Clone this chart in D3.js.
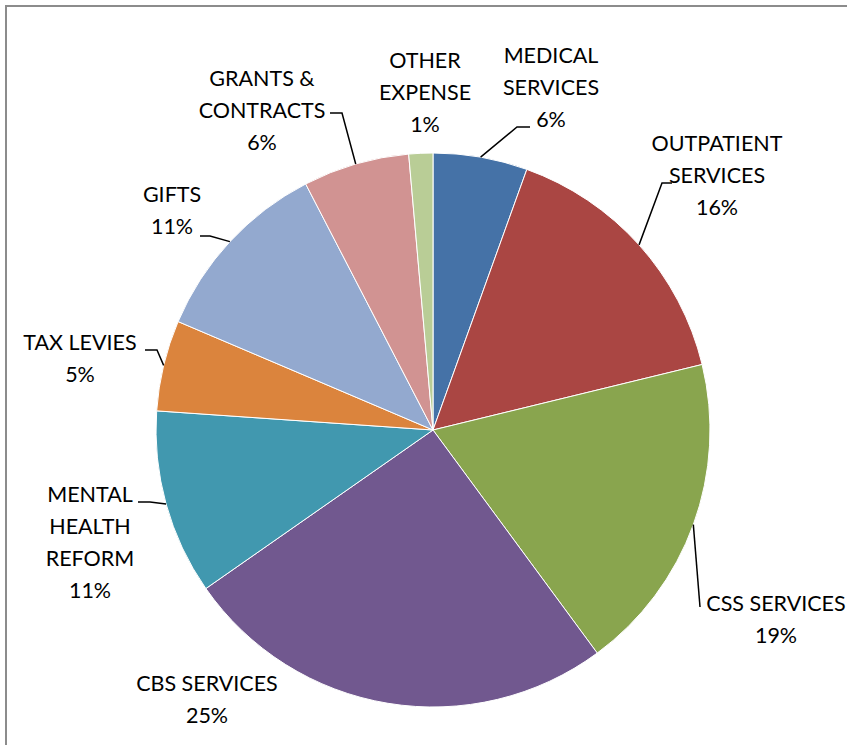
<!DOCTYPE html>
<html>
<head>
<meta charset="utf-8">
<script src="https://cdn.jsdelivr.net/npm/d3@7"></script>
<style>
  body { margin: 0; background: #fff; }
  svg { display: block; }
  text { font-family: Lato, "Open Sans", sans-serif; font-size: 21.5px; fill: #000; }
</style>
</head>
<body>
<div id="pie-chart"></div>
<script>
// slices, clockwise from 12 o'clock
const categories = ["MEDICAL SERVICES", "OUTPATIENT SERVICES", "CSS SERVICES", "CBS SERVICES",
  "MENTAL HEALTH REFORM", "TAX LEVIES", "GIFTS", "GRANTS & CONTRACTS", "OTHER EXPENSE"];
const values = [5.5, 15.7, 18.7, 25.4, 10.8, 5.3, 11.0, 6.2, 1.4];
const labelLines = [
  ["MEDICAL", "SERVICES"],
  ["OUTPATIENT", "SERVICES"],
  ["CSS SERVICES"],
  ["CBS SERVICES"],
  ["MENTAL", "HEALTH", "REFORM"],
  ["TAX LEVIES"],
  ["GIFTS"],
  ["GRANTS &", "CONTRACTS"],
  ["OTHER", "EXPENSE"]
];
const colors = ["#4572A7", "#AA4643", "#89A54E", "#71588F", "#4198AF",
  "#DB843D", "#93A9CF", "#D19392", "#B9CD96"];

const width = 847;
const height = 745;
const cx = 433, cy = 430, radius = 277;
const lineH = 32;

// label layout: text centre x, first line y, and leader line (elbow, end) or null
const layout = [
  { x: 551, y: 55, leader: [[517, 127], [530, 127]] },
  { x: 717, y: 143, leader: [[662, 183], [672, 183]] },
  { x: 776, y: 603, leader: [[700, 607], [700, 607]] },
  { x: 207, y: 683, leader: null },
  { x: 90, y: 494, leader: [[150, 502], [138, 502]] },
  { x: 80, y: 342, leader: [[157, 350], [145, 350]] },
  { x: 172, y: 194, leader: [[210, 236], [200, 236]] },
  { x: 262, y: 78, leader: [[342, 113], [330, 113]] },
  { x: 425, y: 60, leader: null }
];

const data = categories.map((c, i) => ({ name: c, value: values[i], i }));
const total = d3.sum(values);

const svg = d3.select("#pie-chart")
  .append("svg")
  .attr("width", width)
  .attr("height", height);

// frame
svg.append("rect")
  .attr("x", 6)
  .attr("y", 6)
  .attr("width", width + 10)
  .attr("height", height + 10)
  .attr("fill", "none")
  .attr("stroke", "#8c8c8c")
  .attr("stroke-width", 2);

const pie = d3.pie().sort(null).value(d => d.value);
const arc = d3.arc().innerRadius(0).outerRadius(radius);
const arcs = pie(data);

const g = svg.append("g").attr("transform", `translate(${cx},${cy})`);

g.selectAll("path")
  .data(arcs)
  .join("path")
  .attr("d", arc)
  .attr("fill", d => colors[d.data.i])
  .attr("stroke", "#fff")
  .attr("stroke-width", 1);

// leader lines
arcs.forEach(d => {
  const l = layout[d.data.i].leader;
  if (!l) return;
  const a = (d.startAngle + d.endAngle) / 2;
  const p0 = [cx + radius * Math.sin(a), cy - radius * Math.cos(a)];
  svg.append("path")
    .attr("d", d3.line()([p0, l[0], l[1]]))
    .attr("fill", "none")
    .attr("stroke", "#000")
    .attr("stroke-width", 1.5);
});

// labels
arcs.forEach(d => {
  const i = d.data.i;
  const lines = labelLines[i].concat([Math.round(values[i] / total * 100) + "%"]);
  const t = svg.append("text")
    .attr("text-anchor", "middle")
    .attr("x", layout[i].x)
    .attr("y", layout[i].y);
  lines.forEach((s, k) => {
    t.append("tspan")
      .attr("x", layout[i].x)
      .attr("y", layout[i].y + k * lineH)
      .attr("dy", "0.35em")
      .text(s);
  });
});
</script>
</body>
</html>
